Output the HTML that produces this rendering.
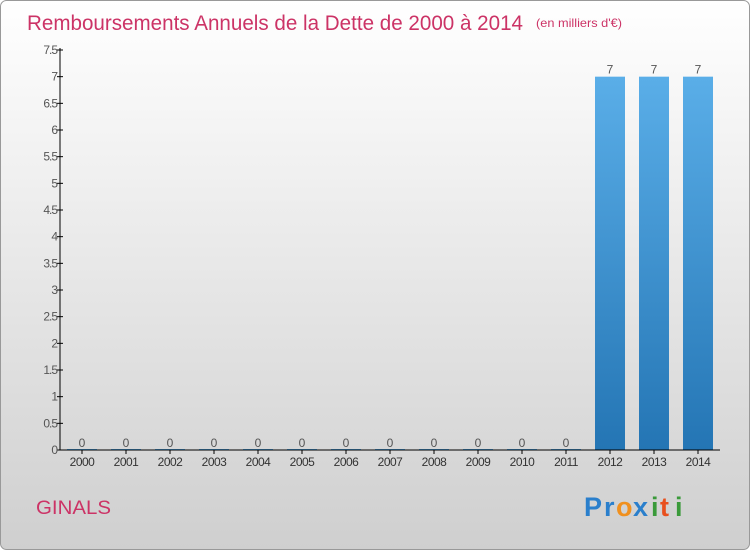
<!DOCTYPE html>
<html><head><meta charset="utf-8"><style>
body{margin:0;width:750px;height:550px;overflow:hidden;font-family:"Liberation Sans",sans-serif}
</style></head><body>
<svg id="chart" width="750" height="550" xmlns="http://www.w3.org/2000/svg">
<defs>
<linearGradient id="bg" x1="0" y1="0" x2="0" y2="1"><stop offset="0" stop-color="#ffffff"/><stop offset="1" stop-color="#cfcfcf"/></linearGradient>
<linearGradient id="bar" x1="0" y1="0" x2="0" y2="1"><stop offset="0" stop-color="#5aaee8"/><stop offset="1" stop-color="#2475b4"/></linearGradient>
</defs>
<rect x="0.5" y="0.5" width="749" height="549" rx="6" fill="url(#bg)" stroke="#999"/>
<text x="27" y="30" font-size="21" fill="#cc3366" textLength="496" lengthAdjust="spacingAndGlyphs">Remboursements Annuels de la Dette de 2000 à 2014</text>
<text x="536" y="27" font-size="12" fill="#cc3366" textLength="86" lengthAdjust="spacingAndGlyphs">(en milliers d'€)</text>
<g id="plot"></g>
<text x="36" y="514" font-size="19" fill="#cc3366" textLength="75" lengthAdjust="spacingAndGlyphs">GINALS</text>
<g font-size="27" font-weight="bold">
<text x="584" y="516" fill="#2a7fcc">P</text><text x="604" y="516" fill="#2a7fcc">r</text><text x="616" y="516" fill="#f0901e">o</text><text x="633" y="516" fill="#2a7fcc">x</text><text x="651" y="516" fill="#3a9a3a">i</text><text x="660" y="516" fill="#e8501e">t</text><text x="675" y="516" fill="#3a9a3a">i</text>
</g>
</svg>
<script>
const categories=["2000","2001","2002","2003","2004","2005","2006","2007","2008","2009","2010","2011","2012","2013","2014"];
const values=[0,0,0,0,0,0,0,0,0,0,0,0,7,7,7];
const yTicks=[0,0.5,1,1.5,2,2.5,3,3.5,4,4.5,5,5.5,6,6.5,7,7.5];
const NS="http://www.w3.org/2000/svg";
const g=document.getElementById('plot');
const y0=450,yTop=50,yMax=7.5,axisX=60;
const y=v=>y0-(v/yMax)*(y0-yTop);
const x=i=>82+i*44;
function mk(t,a){const e=document.createElementNS(NS,t);for(const k in a)e.setAttribute(k,a[k]);g.appendChild(e);return e;}
yTicks.forEach(v=>{
 const l=mk('line',{x1:axisX-3,x2:axisX+3,y1:y(v),y2:y(v),stroke:'#000'});
 
 
 const t=mk('text',{x:axisX-3,y:y(v)+4,'font-size':12,fill:'#555','text-anchor':'end','letter-spacing':'-1'});
 t.textContent=String(v);
 
 
});
categories.forEach((c,i)=>{
 const h=y0-y(values[i]);
 const r=mk('rect',{x:x(i)-15,y:y(values[i])-(h<1?1:0),width:30,height:Math.max(h,1),fill:'url(#bar)'});
 
 
 const vl=mk('text',{x:x(i),y:y(values[i])-3,'font-size':12,fill:'#555','text-anchor':'middle'});
 vl.textContent=String(values[i]);
 
 
 const tk=mk('line',{x1:x(i),x2:x(i),y1:y0,y2:y0+4,stroke:'#000'});
 
 
 const xl=mk('text',{x:x(i),y:y0+16,'font-size':12,fill:'#333','text-anchor':'middle','letter-spacing':'-0.5'});
 xl.textContent=c;
 
 
});
const ya=mk('line',{x1:axisX,x2:axisX,y1:yTop-2,y2:y0,stroke:'#000'});


const xa=mk('line',{x1:axisX,x2:720,y1:y0,y2:y0,stroke:'#000'});


</script>
</body></html>
